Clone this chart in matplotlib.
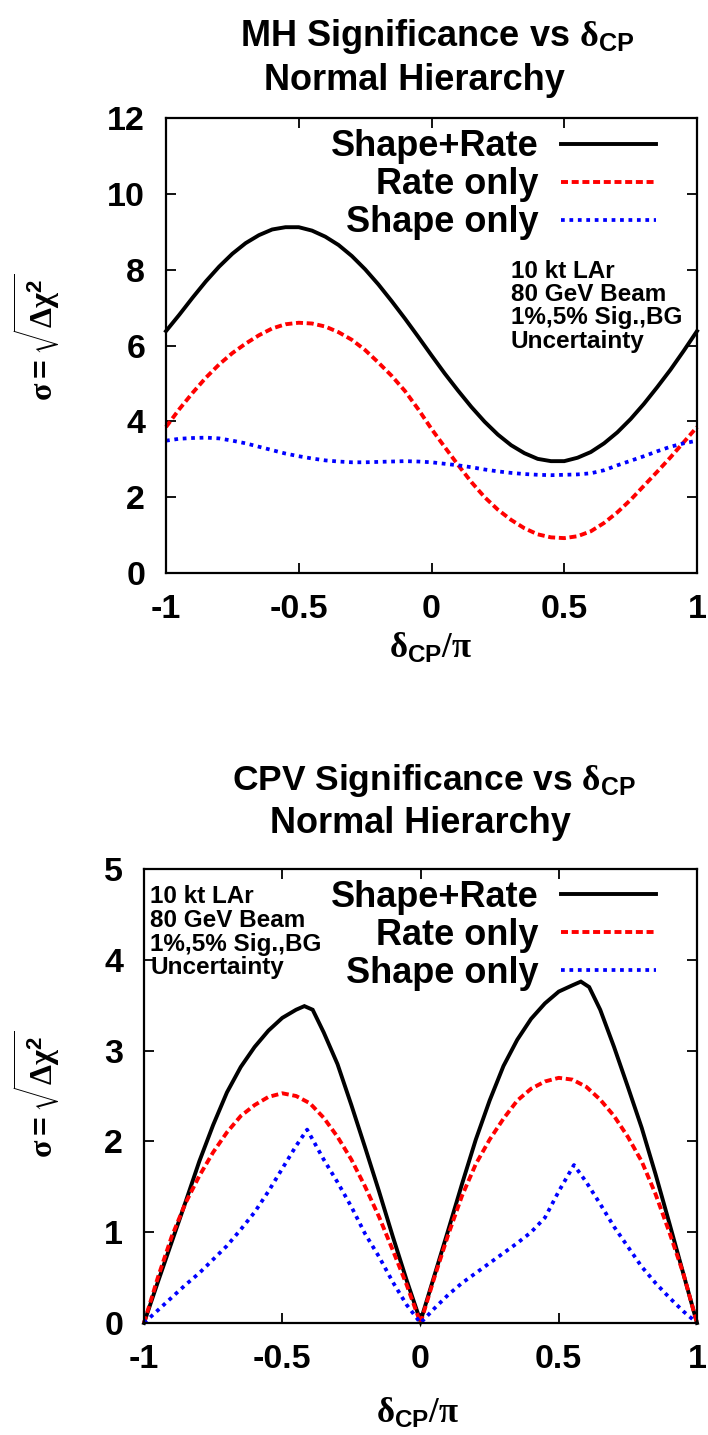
import matplotlib
matplotlib.use('Agg')
import matplotlib.pyplot as plt

plt.rcParams['mathtext.fontset'] = 'custom'
plt.rcParams['mathtext.rm'] = 'Liberation Serif'
plt.rcParams['mathtext.it'] = 'Liberation Serif:italic'
plt.rcParams['mathtext.bf'] = 'Liberation Sans:bold'
plt.rcParams['mathtext.sf'] = 'Liberation Sans'
plt.rcParams['font.family'] = ['Liberation Sans', 'DejaVu Sans']
plt.rcParams['font.weight'] = 'bold'

# ---------------- data ----------------
# Top panel: MH significance vs delta_CP
mh_x = [-1.0, -0.95, -0.9, -0.85, -0.8, -0.75, -0.7, -0.65, -0.6, -0.55, -0.5,
        -0.45, -0.4, -0.35, -0.3, -0.25, -0.2, -0.15, -0.1, -0.05, 0.0,
        0.05, 0.1, 0.15, 0.2, 0.25, 0.3, 0.35, 0.4, 0.45, 0.5,
        0.55, 0.6, 0.65, 0.7, 0.75, 0.8, 0.85, 0.9, 0.95, 1.0]
mh_shape_rate = [6.38, 6.81, 7.26, 7.69, 8.08, 8.42, 8.70, 8.91, 9.06, 9.12, 9.12,
                 9.03, 8.87, 8.65, 8.36, 8.01, 7.61, 7.17, 6.71, 6.23, 5.74,
                 5.26, 4.81, 4.38, 3.99, 3.65, 3.37, 3.16, 3.01, 2.95, 2.95,
                 3.04, 3.19, 3.42, 3.71, 4.06, 4.46, 4.90, 5.36, 5.86, 6.38]
mh_rate = [3.85, 4.32, 4.75, 5.15, 5.50, 5.80, 6.05, 6.27, 6.45, 6.56, 6.60,
           6.58, 6.50, 6.35, 6.15, 5.88, 5.55, 5.20, 4.80, 4.32, 3.80,
           3.32, 2.85, 2.40, 2.00, 1.67, 1.40, 1.18, 1.02, 0.94, 0.92,
           0.97, 1.10, 1.32, 1.60, 1.93, 2.30, 2.67, 3.05, 3.45, 3.85]
mh_shape = [3.49, 3.54, 3.56, 3.57, 3.55, 3.49, 3.42, 3.33, 3.24, 3.15, 3.08,
            3.02, 2.97, 2.94, 2.92, 2.92, 2.93, 2.94, 2.95, 2.94, 2.92,
            2.88, 2.84, 2.79, 2.73, 2.68, 2.64, 2.61, 2.59, 2.58, 2.59,
            2.60, 2.63, 2.71, 2.84, 2.96, 3.08, 3.21, 3.33, 3.42, 3.49]

# Bottom panel: CPV significance vs delta_CP
cpv_sr_x = [-1.0, -0.95, -0.9, -0.85, -0.8, -0.75, -0.7, -0.65, -0.6, -0.55, -0.5, -0.45,
            -0.42, -0.39, -0.35, -0.3, -0.25, -0.2, -0.15, -0.1, -0.05, 0.0,
            0.05, 0.1, 0.15, 0.2, 0.25, 0.3, 0.35, 0.4, 0.45, 0.5, 0.55,
            0.58, 0.61, 0.65, 0.7, 0.75, 0.8, 0.85, 0.9, 0.95, 1.0]
cpv_shape_rate = [0.0, 0.45, 0.89, 1.33, 1.78, 2.18, 2.54, 2.82, 3.04, 3.22, 3.36, 3.45,
                  3.49, 3.45, 3.20, 2.85, 2.40, 1.93, 1.45, 0.95, 0.47, 0.02,
                  0.52, 1.02, 1.53, 2.02, 2.45, 2.83, 3.12, 3.35, 3.52, 3.65, 3.72,
                  3.76, 3.70, 3.45, 3.04, 2.60, 2.15, 1.64, 1.10, 0.55, 0.0]
cpv_rate_x = [-1.0, -0.95, -0.9, -0.85, -0.8, -0.75, -0.7, -0.65, -0.6, -0.55, -0.5,
              -0.45, -0.4, -0.35, -0.3, -0.25, -0.2, -0.15, -0.1, -0.05, 0.0,
              0.05, 0.1, 0.15, 0.2, 0.25, 0.3, 0.35, 0.4, 0.45, 0.5,
              0.55, 0.6, 0.65, 0.7, 0.75, 0.8, 0.85, 0.9, 0.95, 1.0]
cpv_rate = [0.0, 0.50, 0.95, 1.32, 1.62, 1.88, 2.10, 2.28, 2.40, 2.49, 2.53,
            2.50, 2.42, 2.26, 2.05, 1.80, 1.50, 1.17, 0.80, 0.42, 0.0,
            0.50, 0.97, 1.40, 1.75, 2.02, 2.25, 2.45, 2.58, 2.66, 2.70,
            2.68, 2.60, 2.46, 2.28, 2.05, 1.78, 1.42, 1.00, 0.55, 0.0]
cpv_shape_x = [-1.0, -0.95, -0.9, -0.85, -0.8, -0.75, -0.7, -0.65, -0.6, -0.55, -0.5, -0.45,
               -0.41, -0.35, -0.3, -0.25, -0.2, -0.15, -0.1, -0.05, 0.0,
               0.05, 0.1, 0.15, 0.2, 0.25, 0.3, 0.35, 0.4, 0.45, 0.5,
               0.555, 0.6, 0.65, 0.7, 0.75, 0.8, 0.85, 0.9, 0.95, 1.0]
cpv_shape = [0.0, 0.14, 0.28, 0.42, 0.55, 0.70, 0.85, 1.03, 1.22, 1.45, 1.70, 1.95,
             2.13, 1.80, 1.55, 1.28, 0.98, 0.73, 0.45, 0.20, 0.0,
             0.16, 0.31, 0.44, 0.55, 0.66, 0.77, 0.88, 1.00, 1.16, 1.45,
             1.74, 1.55, 1.31, 1.06, 0.84, 0.62, 0.44, 0.28, 0.13, 0.0]

series_labels = ['Shape+Rate', 'Rate only', 'Shape only']
xtick_vals = [-1, -0.5, 0, 0.5, 1]
xtick_labels = ['-1', '-0.5', '0', '0.5', '1']
mh_yticks = [0, 2, 4, 6, 8, 10, 12]
cpv_yticks = [0, 1, 2, 3, 4, 5]
note_lines = ['10 kt LAr', '80 GeV Beam', '1%,5% Sig.,BG', 'Uncertainty']
titles_top = [r'MH Significance vs $\mathrm{\delta}_{\mathbf{CP}}$', 'Normal Hierarchy']
titles_bot = [r'CPV Significance vs $\mathrm{\delta}_{\mathbf{CP}}$', 'Normal Hierarchy']
xlabel_txt = r'$\mathrm{\delta}_{\mathbf{CP}}\mathrm{/\pi}$'
ylabel_txt = r'$\mathrm{\sigma}\mathbf{=}\sqrt{\mathrm{\Delta\chi}^{\mathbf{2}}}$'

# ---------------- figure ----------------
W, H = 708, 1435
fig = plt.figure(figsize=(W / 100, H / 100), dpi=100)


def fx(px):
    return px / W


def fy(py):
    return 1 - py / H


def make_axes(l, t, r, b):
    return fig.add_axes([fx(l), fy(b), (r - l) / W, (b - t) / H])


def style_axes(ax, yticks, ylim):
    ax.set_xlim(-1, 1)
    ax.set_ylim(*ylim)
    ax.set_xticks(xtick_vals)
    ax.set_xticklabels(xtick_labels)
    ax.set_yticks(yticks)
    ax.set_yticklabels([str(v) for v in yticks])
    ax.tick_params(direction='in', length=7, width=1.3, top=True, right=True,
                   labelsize=24.5)
    ax.tick_params(axis='x', pad=15)
    ax.tick_params(axis='y', pad=15)
    for lab in ax.get_xticklabels() + ax.get_yticklabels():
        lab.set_fontweight('bold')
    for s in ax.spines.values():
        s.set_linewidth(1.6)


def draw_series(ax, xs_list, ys_list):
    styles = [dict(color='black', lw=2.8, solid_joinstyle='miter'),
              dict(color='red', lw=2.8, dashes=(1.8, 0.95)),
              dict(color='blue', lw=2.7, dashes=(1.0, 1.25))]
    for xs, ys, st, lab in zip(xs_list, ys_list, styles, series_labels):
        ax.plot(xs, ys, label=lab, clip_on=False, **st)


def add_legend(ax, anchor):
    ax.legend(loc='upper right', bbox_to_anchor=anchor, markerfirst=False,
              frameon=False, prop={'family': 'Liberation Sans', 'weight': 'bold', 'size': 26},
              handlelength=2.64, handletextpad=0.62, labelspacing=0.08,
              borderpad=0, borderaxespad=0)


# Top panel
ax1 = make_axes(166, 118, 697, 573)
draw_series(ax1, [mh_x, mh_x, mh_x], [mh_shape_rate, mh_rate, mh_shape])
style_axes(ax1, mh_yticks, (0, 12))
add_legend(ax1, (0.9228, 0.975))

# Bottom panel
ax2 = make_axes(144, 869, 697, 1323)
draw_series(ax2, [cpv_sr_x, cpv_rate_x, cpv_shape_x], [cpv_shape_rate, cpv_rate, cpv_shape])
style_axes(ax2, cpv_yticks, (0, 5))
add_legend(ax2, (0.926, 0.976))

# Notes
for i, line in enumerate(note_lines):
    fig.text(fx(511), fy(277.5 + 23.4 * i), line, fontsize=17.5, fontweight='bold',
             ha='left', va='baseline')
    fig.text(fx(150), fy(903.5 + 23.5 * i), line, fontsize=17.5, fontweight='bold',
             ha='left', va='baseline')

# Titles
fig.text(fx(437), fy(46), titles_top[0], fontsize=26, fontweight='bold', ha='center', va='baseline')
fig.text(fx(414), fy(90), titles_top[1], fontsize=26, fontweight='bold', ha='center', va='baseline')
fig.text(fx(434), fy(790), titles_bot[0], fontsize=25.5, fontweight='bold', ha='center', va='baseline')
fig.text(fx(420), fy(833), titles_bot[1], fontsize=26, fontweight='bold', ha='center', va='baseline')

# Axis labels
fig.text(fx(431), fy(648), xlabel_txt, fontsize=25, ha='center', va='center')
fig.text(fx(418), fy(1413), xlabel_txt, fontsize=25, ha='center', va='center')
fig.text(fx(37), fy(337), ylabel_txt, fontsize=23, rotation=90, ha='center', va='center')
fig.text(fx(37), fy(1094), ylabel_txt, fontsize=23, rotation=90, ha='center', va='center')

fig.savefig('out.png', dpi=100)
